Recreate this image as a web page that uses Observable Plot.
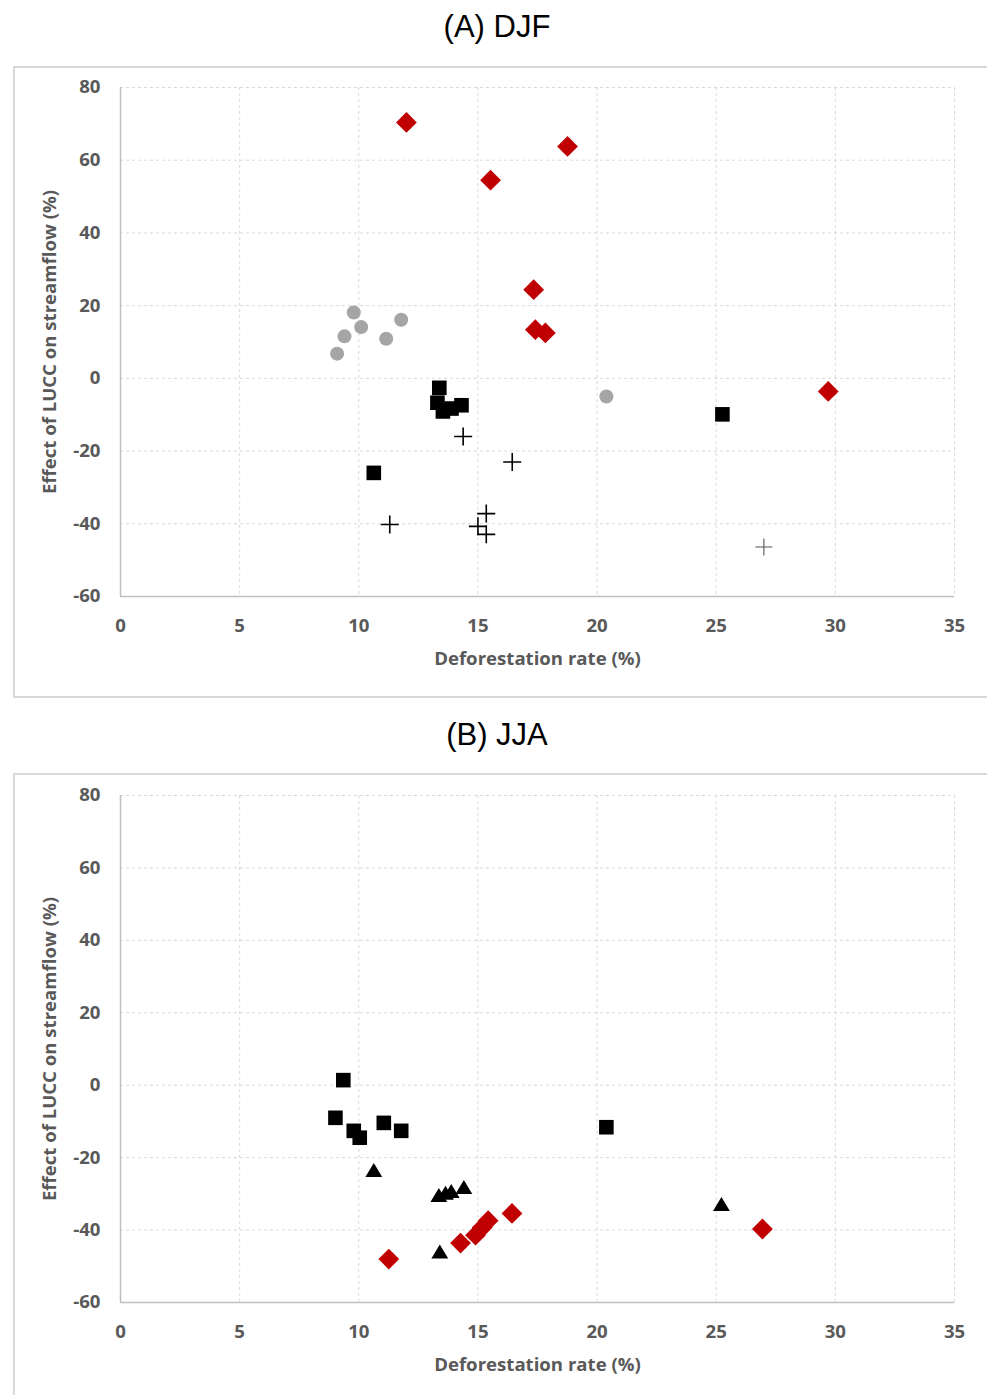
<!DOCTYPE html>
<html>
<head>
<meta charset="utf-8">
<script src="https://cdn.jsdelivr.net/npm/d3@7"></script>
<script src="https://cdn.jsdelivr.net/npm/@observablehq/plot@0.6"></script>
<style>
  html, body { margin: 0; padding: 0; background: #fff; }
  body { position: relative; width: 987px; height: 1395px; overflow: hidden; }
  .title { position: absolute; left: 0; width: 994px; text-align: center;
           font-family: "Liberation Sans", Arial, sans-serif; font-size: 31px; line-height: 31px; color: #000; }
  .frame { position: absolute; left: 13px; width: 1000px; border: 2px solid #d9d9d9; box-sizing: border-box; }
  .chart { position: absolute; left: 0; }
</style>
</head>
<body>
<div class="title" style="top:11px">(A) DJF</div>
<div class="frame" style="top:66px;height:632px"></div>
<div class="chart" id="chartA" style="top:67px"></div>

<div class="title" style="top:719px">(B) JJA</div>
<div class="frame" style="top:773px;height:700px"></div>
<div class="chart" id="chartB" style="top:774px"></div>

<script>
// ---- axes ----
const xTicks = [0, 5, 10, 15, 20, 25, 30, 35];
const yTicks = [-60, -40, -20, 0, 20, 40, 60, 80];
const xLabel = "Deforestation rate (%)";
const yLabel = "Effect of LUCC on streamflow (%)";

// ---- (A) DJF ----
const aDiamondX = [12.0, 15.53, 18.76, 17.34, 17.41, 17.83, 29.7];
const aDiamondY = [70.4, 54.5, 63.8, 24.4, 13.4, 12.5, -3.6];
const aCircleX = [9.79, 10.1, 9.4, 9.09, 11.15, 11.78, 20.39];
const aCircleY = [18.1, 14.1, 11.55, 6.8, 10.9, 16.1, -5.0];
const aSquareX = [13.38, 13.3, 13.53, 13.89, 14.31, 10.63, 25.26];
const aSquareY = [-2.6, -6.7, -9.1, -8.3, -7.4, -26.0, -9.9];
const aPlusX = [14.38, 16.44, 11.3, 15.35, 15.0, 15.35];
const aPlusY = [-16.0, -23.0, -40.2, -37.2, -40.7, -42.9];
const aPlusLightX = [27.0];
const aPlusLightY = [-46.4];

// ---- (B) JJA ----
const bSquareX = [9.35, 9.02, 9.79, 10.04, 11.05, 11.78, 20.39];
const bSquareY = [1.4, -9.0, -12.6, -14.5, -10.4, -12.6, -11.6];
const bTriangleX = [10.63, 13.36, 13.64, 13.88, 14.41, 13.4, 25.22];
const bTriangleY = [-23.4, -30.3, -29.7, -29.2, -28.1, -45.9, -32.8];
const bDiamondX = [11.26, 14.27, 14.9, 15.18, 15.43, 16.43, 26.94];
const bDiamondY = [-48.0, -43.6, -41.4, -39.3, -37.4, -35.4, -39.7];

const zip = (xs, ys) => xs.map((x, i) => ({x, y: ys[i]}));

// custom marker shapes (r = sqrt(size/PI) is the half-size)
const rad = (size) => Math.sqrt(size / Math.PI);
const symSquare = {draw(c, s) { const r = rad(s); c.moveTo(-r, -r); c.lineTo(r, -r); c.lineTo(r, r); c.lineTo(-r, r); c.closePath(); }};
const symDiamond = {draw(c, s) { const r = rad(s); c.moveTo(0, -r); c.lineTo(r, 0); c.lineTo(0, r); c.lineTo(-r, 0); c.closePath(); }};
const symTriangle = {draw(c, s) { const r = rad(s); c.moveTo(0, -r); c.lineTo(1.2 * r, r); c.lineTo(-1.2 * r, r); c.closePath(); }};
const symPlus = {draw(c, s) { const r = rad(s); c.moveTo(-r, 0); c.lineTo(r, 0); c.moveTo(0, -r); c.lineTo(0, r); }};

const RED = "#c00000";
const GRAY = "#a5a5a5";
const TXT = "#595959";

function frameMarks() {
  return [
    Plot.ruleX(xTicks.filter(d => d > 0), {x: d => d, stroke: "#d9d9d9", strokeOpacity: 1, strokeWidth: 1, strokeDasharray: "3,3"}),
    Plot.ruleY(yTicks.filter(d => d > -60), {y: d => d, stroke: "#d9d9d9", strokeOpacity: 1, strokeWidth: 1, strokeDasharray: "3,3"}),
    Plot.ruleX([0], {x: d => d, stroke: "#bfbfbf", strokeWidth: 1.5}),
    Plot.ruleY([-60], {y: d => d, stroke: "#bfbfbf", strokeWidth: 1.5}),
    Plot.text(xTicks, {x: d => d, frameAnchor: "bottom", dy: 30, lineAnchor: "middle", textAnchor: "middle", text: d => String(d), fill: TXT}),
    Plot.text(yTicks, {y: d => d, frameAnchor: "left", dx: -20, lineAnchor: "middle", textAnchor: "end", text: d => String(d), fill: TXT}),
    Plot.text([xLabel], {frameAnchor: "bottom", dy: 63, lineAnchor: "middle", textAnchor: "middle", text: d => d, fill: TXT}),
    Plot.text([yLabel], {frameAnchor: "left", dx: -70, rotate: -90, lineAnchor: "middle", textAnchor: "middle", text: d => d, fill: TXT})
  ];
}

function makePlot(marks, height, marginTop, marginBottom) {
  return Plot.plot({
    width: 987,
    height,
    marginLeft: 120,
    marginRight: 33,
    marginTop,
    marginBottom,
    x: {domain: [0, 35], axis: null},
    y: {domain: [-60, 80], axis: null},
    style: {fontFamily: "'Open Sans', Lato, sans-serif", fontWeight: "700", fontSize: "18.6px", background: "transparent", overflow: "visible"},
    marks: [...frameMarks(), ...marks]
  });
}

const plotA = makePlot([
  Plot.dot(zip(aCircleX, aCircleY), {x: "x", y: "y", r: 7, fill: GRAY, stroke: "none"}),
  Plot.dot(zip(aSquareX, aSquareY), {x: "x", y: "y", r: 7.3, symbol: symSquare, fill: "#000", stroke: "none"}),
  Plot.dot(zip(aPlusX, aPlusY), {x: "x", y: "y", r: 9, symbol: symPlus, fill: "none", stroke: "#000", strokeWidth: 1.6}),
  Plot.dot(zip(aPlusLightX, aPlusLightY), {x: "x", y: "y", r: 8.5, symbol: symPlus, fill: "none", stroke: "#555", strokeWidth: 1.1}),
  Plot.dot(zip(aDiamondX, aDiamondY), {x: "x", y: "y", r: 10.4, symbol: symDiamond, fill: RED, stroke: "none"})
], 630, 20, 101);
document.getElementById("chartA").appendChild(plotA);

const plotB = makePlot([
  Plot.dot(zip(bSquareX, bSquareY), {x: "x", y: "y", r: 7.3, symbol: symSquare, fill: "#000", stroke: "none"}),
  Plot.dot(zip(bTriangleX, bTriangleY), {x: "x", y: "y", r: 7, symbol: symTriangle, fill: "#000", stroke: "none"}),
  Plot.dot(zip(bDiamondX, bDiamondY), {x: "x", y: "y", r: 10.4, symbol: symDiamond, fill: RED, stroke: "none"})
], 621, 21, 93);
document.getElementById("chartB").appendChild(plotB);
</script>
</body>
</html>
